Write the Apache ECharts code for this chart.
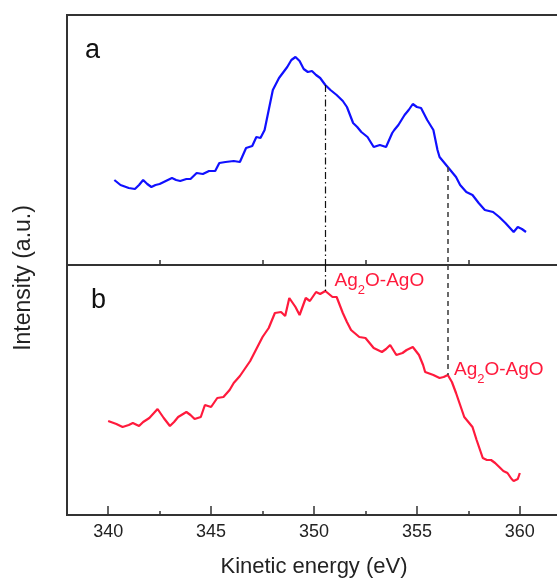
<!DOCTYPE html>
<html>
<head>
<meta charset="utf-8">
<script src="https://cdn.jsdelivr.net/npm/echarts@6/dist/echarts.min.js"></script>
<style>
html,body{margin:0;padding:0;background:#fff;}
#chart{width:557px;height:578px;}
</style>
</head>
<body>
<div id="chart"></div>
<script>
// Panel a (blue) : [kinetic energy (eV), intensity (a.u.)]
const energyA = [340.3,340.6,341.0,341.3,341.5,341.7,341.9,342.1,342.3,342.5,342.8,343.1,343.3,343.5,343.8,344.0,344.3,344.6,344.9,345.2,345.4,345.7,346.1,346.4,346.7,347.0,347.2,347.4,347.6,347.8,348.0,348.3,348.7,348.9,349.1,349.3,349.5,349.7,349.9,350.1,350.3,350.55,350.8,351.1,351.4,351.6,351.9,352.1,352.3,352.6,352.9,353.2,353.5,353.8,353.9,354.1,354.4,354.6,354.8,355.0,355.2,355.5,355.8,356.0,356.1,356.5,356.9,357.1,357.4,357.7,358.0,358.3,358.5,358.7,359.0,359.3,359.7,359.9,360.1,360.3];
const intensityA = [85,80,77,76,80,85,81,78,80,81,84,87,85,84,86,86,92,91,94,94,102,103,104,103,117,119,128,127,135,155,175,187,198,205,208,204,196,193,194,190,187,180,175,170,164,158,142,138,133,128,118,120,118,132,135,140,150,155,161,158,157,145,135,115,108,98,88,80,73,70,62,55,54,53,48,42,33,38,36,33];
// Panel b (red)
const energyB = [340.0,340.4,340.7,341.0,341.2,341.5,341.7,342.0,342.4,342.7,343.0,343.2,343.4,343.8,344.0,344.2,344.5,344.7,345.0,345.3,345.6,345.9,346.1,346.4,346.6,346.9,347.1,347.3,347.5,347.8,348.1,348.4,348.6,348.8,349.1,349.3,349.6,349.8,350.1,350.3,350.55,350.9,351.1,351.4,351.6,351.8,352.2,352.5,352.7,352.9,353.1,353.3,353.5,353.7,354.0,354.3,354.5,354.8,355.1,355.3,355.4,355.8,356.1,356.3,356.5,356.7,356.9,357.1,357.3,357.5,357.7,357.9,358.1,358.2,358.4,358.6,358.8,359.0,359.2,359.4,359.6,359.7,359.9,360.0];
const intensityB = [94,91,88,90,92,89,93,97,106,97,89,93,98,103,100,96,98,110,108,117,118,125,132,139,145,154,162,170,178,187,202,203,199,217,208,200,217,214,223,221,224,218,218,202,193,185,178,177,172,167,165,163,166,170,160,162,165,168,160,150,143,140,137,138,140,133,122,110,98,93,88,75,63,57,55,55,52,48,44,42,36,34,36,42];

const majorTicks = [340,345,350,355,360];
const minorTicks = [342.5,347.5,352.5,357.5];
const markerEnergies = [350.55, 356.5];
const markerLabel = 'Ag2O-AgO';
const panelLetters = ['a','b'];
const xName = 'Kinetic energy (eV)';
const yName = 'Intensity (a.u.)';

function pairs(xs, ys){ return xs.map((x,i)=>[x, ys[i]]); }
function valAt(xs, ys, x){ const i = xs.indexOf(x); return ys[i]; }

const chart = echarts.init(document.getElementById('chart'), null, {renderer:'canvas'});
const font = '"Liberation Sans", Arial, sans-serif';
const XMIN = 338, XMAX = 362, YMAX = 250;
const RED = '#ff1a3c', BLUE = '#1010ff';

const richLabel = {
  n: {fontSize: 19, color: RED, fontFamily: font, lineHeight: 20, verticalAlign: 'top'},
  s: {fontSize: 13, color: RED, fontFamily: font, lineHeight: 25, verticalAlign: 'bottom'}
};
const labelFmt = '{n|Ag}{s|2}{n|O-AgO}';

const option = {
  animation: false,
  backgroundColor: '#fff',
  title: [
    {text: panelLetters[0], left: 80, top: 32, textStyle: {fontSize: 27, fontWeight: 'normal', color: '#111', fontFamily: font}},
    {text: panelLetters[1], left: 86, top: 282, textStyle: {fontSize: 27, fontWeight: 'normal', color: '#111', fontFamily: font}}
  ],
  graphic: [{
    type: 'text', x: 24, y: 278, rotation: Math.PI/2,
    style: {text: yName, fontSize: 23, fontFamily: font, fill: '#222', align: 'center', verticalAlign: 'middle'}
  }],
  grid: [
    {left: 67, top: 15, width: 494, height: 250, show: true, borderColor: '#333', borderWidth: 2, backgroundColor: 'transparent', outerBoundsMode: 'none', containLabel: false},
    {left: 67, top: 265, width: 494, height: 250, show: true, borderColor: '#333', borderWidth: 2, backgroundColor: 'transparent', outerBoundsMode: 'none', containLabel: false}
  ],
  xAxis: [
    {gridIndex: 0, type: 'value', position: 'bottom', min: XMIN, max: XMAX, axisLine: {show: false},
     axisTick: {show: true, inside: true, length: 5, customValues: minorTicks, lineStyle: {color: '#333', width: 1.5}},
     axisLabel: {show: false}, splitLine: {show: false}},
    {gridIndex: 1, type: 'value', position: 'bottom', min: XMIN, max: XMAX, axisLine: {show: false},
     axisTick: {show: true, inside: true, length: 9, customValues: majorTicks, lineStyle: {color: '#333', width: 1.5}},
     axisLabel: {show: true, customValues: majorTicks, fontSize: 18, color: '#222', fontFamily: font, margin: 8},
     splitLine: {show: false},
     name: xName, nameLocation: 'middle', nameGap: 41,
     nameTextStyle: {fontSize: 22, color: '#222', fontFamily: font}},
    {gridIndex: 1, type: 'value', position: 'bottom', offset: 0, min: XMIN, max: XMAX, axisLine: {show: false},
     axisTick: {show: true, inside: true, length: 4, customValues: minorTicks, lineStyle: {color: '#333', width: 1.5}},
     axisLabel: {show: false}, splitLine: {show: false}}
  ],
  yAxis: [
    {gridIndex: 0, type: 'value', min: 0, max: YMAX, show: false},
    {gridIndex: 1, type: 'value', min: 0, max: YMAX, show: false}
  ],
  series: [
    {type: 'line', xAxisIndex: 0, yAxisIndex: 0, data: pairs(energyA, intensityA), showSymbol: false,
     lineStyle: {color: BLUE, width: 2.2}, silent: true,
     markLine: {silent: true, symbol: 'none', label: {show: false},
       data: [
         [{coord: [markerEnergies[0], valAt(energyA, intensityA, markerEnergies[0])], lineStyle: {type: [7,3,1.5,3], color: '#111', width: 1.2}},
          {coord: [markerEnergies[0], 0]}],
         [{coord: [markerEnergies[1], valAt(energyA, intensityA, markerEnergies[1])], lineStyle: {type: [5,4], color: '#444', width: 1.6}},
          {coord: [markerEnergies[1], 0]}]
       ]}},
    {type: 'line', xAxisIndex: 2, yAxisIndex: 1, data: pairs(energyB, intensityB), showSymbol: false,
     lineStyle: {color: RED, width: 2.2}, silent: true,
     markLine: {silent: true, symbol: 'none', label: {show: false},
       data: [
         [{coord: [markerEnergies[0], YMAX], lineStyle: {type: [7,3,1.5,3], color: '#111', width: 1.2}},
          {coord: [markerEnergies[0], valAt(energyB, intensityB, markerEnergies[0])]}],
         [{coord: [markerEnergies[1], YMAX], lineStyle: {type: [5,4], color: '#444', width: 1.6}},
          {coord: [markerEnergies[1], valAt(energyB, intensityB, markerEnergies[1])]}]
       ]},
     markPoint: {silent: true, symbol: 'circle', symbolSize: 0,
       label: {show: true, position: 'right', distance: 0, formatter: labelFmt, rich: richLabel},
       data: [
         {name: markerLabel, coord: [351.0, 231]},
         {name: markerLabel, coord: [356.8, 142]}
       ]}}
  ]
};
chart.setOption(option);
</script>
</body>
</html>
